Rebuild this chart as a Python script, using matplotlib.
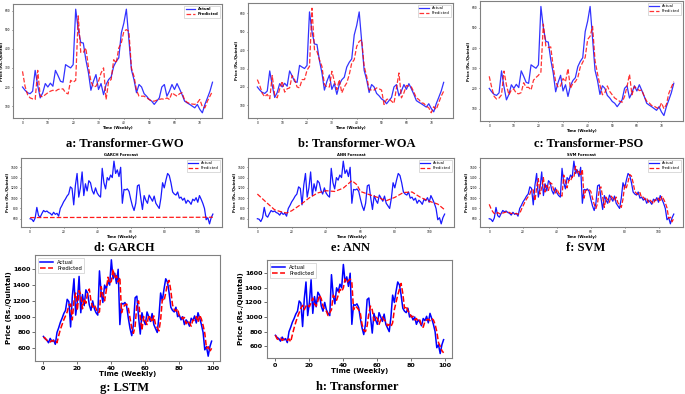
import matplotlib
matplotlib.use("Agg")
import matplotlib.pyplot as plt

W, H = 685, 394

# ---- data ----
# top row: 76 weekly points
ACT_TOP = [200, 183, 170, 165, 178, 287, 208, 143, 170, 218, 200, 220, 204, 287, 260, 230, 225, 317, 308, 300,
           317, 607, 500, 433, 430, 343, 277, 183, 230, 265, 187, 218, 160, 213, 239, 253, 308, 334, 352, 482,
           534, 607, 447, 290, 239, 170, 213, 200, 165, 152, 135, 126, 109, 126, 143, 200, 213, 152, 178, 213,
           187, 218, 190, 160, 126, 117, 109, 100, 91, 109, 83, 65, 109, 143, 178, 225]
PRED_GWO = [282, 204, 160, 143, 138, 135, 287, 152, 149, 160, 170, 178, 183, 178, 187, 190, 190, 170, 164, 235,
            225, 235, 572, 381, 381, 404, 308, 230, 200, 204, 230, 273, 300, 135, 230, 239, 343, 326, 404, 430,
            491, 500, 491, 300, 256, 183, 152, 152, 152, 143, 135, 126, 126, 131, 135, 138, 135, 143, 135, 170,
            160, 152, 165, 170, 131, 120, 113, 111, 109, 117, 135, 96, 91, 126, 152, 178]
PRED_WOA = [240, 208, 165, 147, 160, 136, 262, 154, 141, 190, 231, 172, 190, 195, 262, 240, 200, 195, 240, 240,
            291, 312, 627, 402, 393, 348, 312, 213, 200, 200, 285, 231, 186, 240, 168, 200, 222, 267, 330, 348,
            420, 447, 456, 312, 258, 186, 183, 183, 195, 190, 183, 105, 132, 136, 123, 111, 195, 276, 141, 168,
            208, 204, 200, 172, 141, 132, 114, 111, 96, 87, 60, 93, 78, 114, 150, 177]
PRED_PSO = [260, 205, 160, 147, 152, 168, 286, 216, 168, 192, 196, 176, 173, 179, 228, 205, 205, 192, 241, 254,
            265, 281, 519, 411, 403, 406, 306, 233, 205, 212, 249, 233, 298, 200, 225, 233, 254, 306, 330, 354,
            443, 459, 508, 338, 273, 216, 168, 179, 212, 184, 168, 152, 144, 136, 131, 160, 209, 270, 168, 209,
            200, 189, 192, 160, 136, 128, 115, 112, 104, 99, 128, 99, 120, 176, 205, 233]

# middle row: 110 weekly points
ACT_MID = [600, 590, 545, 615, 820, 660, 630, 700, 760, 735,
           750, 720, 705, 670, 725, 685, 705, 650, 800, 860,
           930, 980, 1040, 1080, 1220, 1190, 870, 1250, 1480, 1020,
           1200, 1510, 1050, 1280, 1140, 1340, 1300, 1150, 1080, 1200,
           1100, 1050, 1020, 1580, 1300, 1180, 1400, 1350, 1450, 1400,
           1720, 1480, 1550, 1420, 1600, 900, 1170, 1160, 1180, 1130,
           980, 850, 760, 900, 1240, 1260, 1000, 780, 1050, 960,
           900, 1060, 1000, 940, 1040, 900, 850, 800, 1000, 1300,
           1200, 1350, 1480, 1440, 1300, 1120, 1080, 1060, 1120, 1000,
           1020, 960, 1000, 900, 960, 930, 880, 980, 950, 1010,
           920, 1050, 980, 900, 800, 580, 620, 500, 620, 690]
GARCH_X = [0, 20, 40, 60, 80, 100, 109]
GARCH_Y = [622, 624, 625, 626, 627, 628, 629]
ANN_X = [0, 5, 10, 13, 17, 20, 25, 30, 35, 40, 45, 50, 55, 58, 60, 65, 70, 75, 80, 85, 90, 95, 100, 105, 109]
ANN_Y = [1080, 925, 775, 743, 710, 755, 870, 1000, 1100, 1145, 1130, 1195, 1340, 1260, 1130, 1070, 1015,
         950, 1015, 1110, 1120, 1015, 940, 885, 775]
PRED_SVM = [880, 800, 740, 700, 690, 720, 700, 690, 710, 720,
            730, 740, 720, 700, 710, 700, 700, 690, 700, 780,
            850, 920, 980, 1030, 1080, 1170, 1160, 950, 1200, 1380,
            1080, 1200, 1400, 1120, 1250, 1150, 1300, 1280, 1170, 1100,
            1180, 1100, 1060, 1040, 1450, 1320, 1200, 1350, 1330, 1420,
            1400, 1620, 1480, 1520, 1430, 1560, 1000, 1150, 1160, 1170,
            1130, 1000, 880, 800, 900, 1180, 1220, 1020, 820, 1020,
            960, 920, 1040, 1000, 950, 1020, 910, 870, 820, 980,
            1250, 1200, 1320, 1460, 1430, 1300, 1130, 1090, 1070, 1110,
            1010, 1020, 970, 1000, 920, 960, 930, 890, 970, 950,
            1000, 930, 1040, 980, 910, 810, 610, 630, 540, 610]

# bottom row: 100 weekly points (same weeks as the middle row from week 10 on)
ACT_BOT = ACT_MID[10:]
PRED_LSTM = [740, 730, 700, 690, 680, 700, 690, 700, 670, 760,
             840, 900, 960, 1010, 1060, 1150, 1160, 960, 1200, 1300,
             1080, 1330, 1280, 1100, 1230, 1170, 1300, 1350, 1200, 1120,
             1150, 1100, 1050, 1060, 1380, 1280, 1200, 1330, 1500, 1420,
             1450, 1600, 1480, 1520, 1440, 1500, 1050, 1120, 1150, 1160,
             1110, 980, 860, 790, 880, 1150, 1200, 1000, 830, 1000,
             950, 900, 1020, 980, 930, 1010, 900, 860, 820, 960,
             1220, 1200, 1300, 1420, 1460, 1330, 1150, 1090, 1070, 1100,
             1010, 1010, 970, 990, 910, 950, 920, 880, 960, 950,
             1000, 930, 1020, 970, 890, 790, 600, 620, 560, 600]
PRED_TRF = [750, 700, 690, 710, 680, 700, 690, 680, 700, 660,
            760, 850, 930, 1000, 1060, 1120, 1160, 1100, 1150, 1170,
            1140, 1200, 1260, 1180, 1150, 1220, 1300, 1250, 1150, 1100,
            1080, 1020, 1060, 1100, 1300, 1270, 1230, 1300, 1380, 1350,
            1400, 1520, 1470, 1500, 1520, 1470, 1100, 1150, 1130, 1100,
            1050, 900, 820, 800, 880, 1050, 1150, 1100, 950, 1000,
            980, 900, 960, 1000, 960, 940, 880, 900, 870, 920,
            1100, 1200, 1300, 1380, 1460, 1320, 1120, 1150, 1080, 1060,
            1000, 1010, 960, 980, 940, 960, 880, 860, 940, 960,
            970, 950, 980, 960, 900, 800, 650, 600, 540, 510]


def rect(l, t, r, b):
    return [l / W, 1 - b / H, (r - l) / W, (b - t) / H]


def panel(fig, box, actual, px, py, fs, tick_fs, leg_fs, lw, legend_loc, bold_legend=False,
          title=None, xticks=None, yticks=None, bold_ticks=False, alpha=0.8):
    ax = fig.add_axes(rect(*box))
    ax.plot(range(len(actual)), actual, color="blue", lw=lw, alpha=alpha, label="Actual")
    ax.plot(px, py, color="red", lw=lw, ls="--", alpha=alpha, label="Predicted")
    ax.set_xticks(xticks)
    ax.set_yticks(yticks)
    ax.tick_params(labelsize=tick_fs, length=tick_fs * 0.5, width=0.4, pad=1)
    if bold_ticks:
        for t in ax.get_xticklabels() + ax.get_yticklabels():
            t.set_fontweight("bold")
    ax.set_xlabel("Time (Weekly)", fontsize=fs, fontweight="bold", labelpad=0.5)
    ax.set_ylabel("Price (Rs./Quintal)", fontsize=fs, fontweight="bold", labelpad=0.5)
    if title:
        ax.set_title(title, fontsize=fs, fontweight="bold", pad=1.5)
    for s in ax.spines.values():
        s.set_color("#808080")
        s.set_linewidth(0.8)
    leg = ax.legend(loc=legend_loc, fontsize=leg_fs, handlelength=2.5, borderpad=0.4,
                    labelspacing=0.2, framealpha=1, edgecolor="#cccccc", fancybox=False)
    leg.get_frame().set_linewidth(0.5)
    if bold_legend:
        for t in leg.get_texts():
            t.set_fontweight("bold")
    return ax


fig = plt.figure(figsize=(W / 100, H / 100), dpi=100)

top_x = list(range(len(ACT_TOP)))
panel(fig, (13, 4, 222, 118), ACT_TOP, top_x, PRED_GWO, 2.7, 2.1, 2.7, 0.9, "upper right", bold_legend=True,
      xticks=range(0, 71, 10), yticks=range(100, 601, 100))
panel(fig, (248, 3, 453, 118), ACT_TOP, top_x, PRED_WOA, 2.7, 2.1, 2.7, 0.9, "upper right",
      xticks=range(0, 71, 10), yticks=range(100, 601, 100))
panel(fig, (480, 1, 683, 121), ACT_TOP, top_x, PRED_PSO, 2.7, 2.1, 2.7, 0.9, "upper right",
      xticks=range(0, 71, 10), yticks=range(100, 601, 100))

mid_x = list(range(len(ACT_MID)))
panel(fig, (21, 158, 222, 227), ACT_MID, GARCH_X, GARCH_Y, 2.7, 2.1, 2.7, 0.9, "upper right",
      title="GARCH Forecast", xticks=range(0, 101, 20), yticks=range(600, 1601, 200), alpha=0.9)
panel(fig, (248, 158, 454, 227), ACT_MID, ANN_X, ANN_Y, 2.7, 2.1, 2.7, 0.9, "upper right",
      title="ANN Forecast", xticks=range(0, 101, 20), yticks=range(600, 1601, 200), alpha=0.9)
panel(fig, (480, 158, 683, 227), ACT_MID, mid_x, PRED_SVM, 2.7, 2.1, 2.7, 0.9, "upper right",
      title="SVM Forecast", xticks=range(0, 101, 20), yticks=range(600, 1601, 200), alpha=0.9)

bot_x = list(range(len(ACT_BOT)))
panel(fig, (35, 255, 220, 361), ACT_BOT, bot_x, PRED_LSTM, 5.0, 4.6, 3.8, 1.1, "upper left",
      xticks=range(0, 101, 20), yticks=range(600, 1601, 200), bold_ticks=True, alpha=1)
panel(fig, (267, 260, 452, 358), ACT_BOT, bot_x, PRED_TRF, 5.0, 4.6, 3.8, 1.1, "upper left",
      xticks=range(0, 101, 20), yticks=range(600, 1601, 200), bold_ticks=True, alpha=1)

captions = [("a: Transformer-GWO", 125, 144), ("b: Transformer-WOA", 357, 144), ("c: Transformer-PSO", 589, 144),
             ("d: GARCH", 124, 248), ("e: ANN", 350, 248), ("f: SVM", 586, 248),
             ("g: LSTM", 125, 388), ("h: Transformer", 357, 387)]
for txt, x, y in captions:
    fig.text(x / W, 1 - y / H, txt, ha="center", va="center", fontsize=9,
             fontweight="bold", family="Liberation Serif")

fig.savefig("out.png", dpi=100)
